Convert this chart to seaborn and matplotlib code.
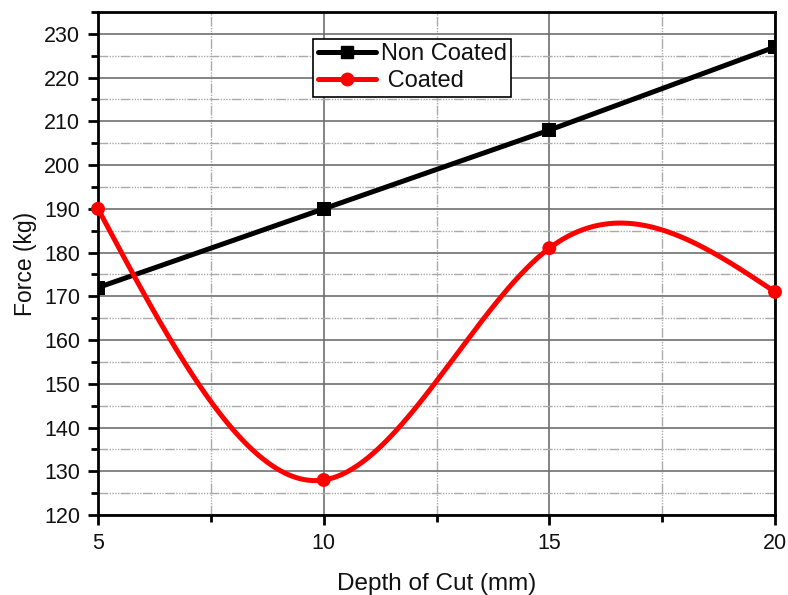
import numpy as np
import pandas as pd
import matplotlib
matplotlib.use("Agg")
import matplotlib.pyplot as plt
from matplotlib.lines import Line2D
from matplotlib.ticker import MultipleLocator
import seaborn as sns

depth = [5, 10, 15, 20]
non_coated = [172, 190, 208, 227]
coated = [190, 128, 181, 171]

sns.set_theme(style="white")
plt.rcParams['font.family'] = ['Liberation Sans', 'DejaVu Sans']


def natural_spline(x, y, n=400):
    x = np.asarray(x, float); y = np.asarray(y, float)
    k = len(x); h = np.diff(x)
    A = np.zeros((k, k)); b = np.zeros(k)
    A[0, 0] = A[-1, -1] = 1
    for i in range(1, k - 1):
        A[i, i - 1] = h[i - 1]; A[i, i] = 2 * (h[i - 1] + h[i]); A[i, i + 1] = h[i]
        b[i] = 6 * ((y[i + 1] - y[i]) / h[i] - (y[i] - y[i - 1]) / h[i - 1])
    M = np.linalg.solve(A, b)
    xs = np.linspace(x[0], x[-1], n)
    idx = np.clip(np.searchsorted(x, xs) - 1, 0, k - 2)
    x0, x1 = x[idx], x[idx + 1]; hh = x1 - x0
    ys = (M[idx] * (x1 - xs) ** 3 / (6 * hh) + M[idx + 1] * (xs - x0) ** 3 / (6 * hh)
          + (y[idx] / hh - M[idx] * hh / 6) * (x1 - xs)
          + (y[idx + 1] / hh - M[idx + 1] * hh / 6) * (xs - x0))
    return xs, ys


df_nc = pd.DataFrame({"depth": depth, "force": non_coated})
df_c = pd.DataFrame({"depth": depth, "force": coated})
xs, ys = natural_spline(depth, coated)
df_cs = pd.DataFrame({"depth": xs, "force": ys})

fig = plt.figure(figsize=(7.88, 5.95), dpi=100)
ax = fig.add_axes([0.1244, 0.1345, 0.8591, 0.8453])

ax.set_xlim(5, 20)
ax.set_ylim(120, 235)
ax.xaxis.set_major_locator(MultipleLocator(5))
ax.xaxis.set_minor_locator(MultipleLocator(2.5))
ax.yaxis.set_major_locator(MultipleLocator(10))
ax.yaxis.set_minor_locator(MultipleLocator(5))
ax.grid(True, which="major", color="#707070", linewidth=1.2, linestyle="-")
ax.grid(True, which="minor", color="#aaaaaa", linewidth=1.0,
        linestyle=(0, (7, 1, 1, 1, 1, 1, 1, 1, 1, 1)))
ax.set_axisbelow(True)

sns.lineplot(data=df_nc, x="depth", y="force", ax=ax, color="black", linewidth=3.6,
             marker="s", markersize=10, markeredgewidth=0, legend=False, zorder=3)
sns.lineplot(data=df_cs, x="depth", y="force", ax=ax, color="red", linewidth=3.6,
             legend=False, zorder=3)
sns.scatterplot(data=df_c, x="depth", y="force", ax=ax, color="red", s=100,
                edgecolor="none", legend=False, zorder=4, clip_on=False)

for s in ax.spines.values():
    s.set_visible(True); s.set_color("black"); s.set_linewidth(2)

ax.tick_params(which="major", direction="out", length=7, width=2, color="black",
               labelsize=15.5, pad=6, left=True, bottom=True, labelcolor="#111111")
ax.tick_params(which="minor", direction="out", length=5, width=2, color="black",
               left=True, bottom=True)
ax.set_xticks([5, 10, 15, 20])
ax.set_xticklabels(["5", "10", "15", "20"])

ax.set_xlabel("Depth of Cut (mm)", fontsize=17.5, labelpad=14, color="#111111")
ax.set_ylabel("Force (kg)", fontsize=16.5, labelpad=5, color="#111111")

handles = [Line2D([], [], color="black", linewidth=3.6, marker="s", markersize=9),
           Line2D([], [], color="red", linewidth=3.6, marker="o", markersize=9)]
leg = ax.legend(handles, ["Non Coated", " Coated"], loc="upper left",
                bbox_to_anchor=(0.318, 0.947), fontsize=17, frameon=True,
                fancybox=False, edgecolor="black", framealpha=1,
                handlelength=2.45, handletextpad=0.2, borderpad=0.2, labelspacing=0.2,
                borderaxespad=0)
leg.get_frame().set_linewidth(1.2)
for t in leg.get_texts():
    t.set_color("#111111")

fig.savefig("out.png", dpi=100)
